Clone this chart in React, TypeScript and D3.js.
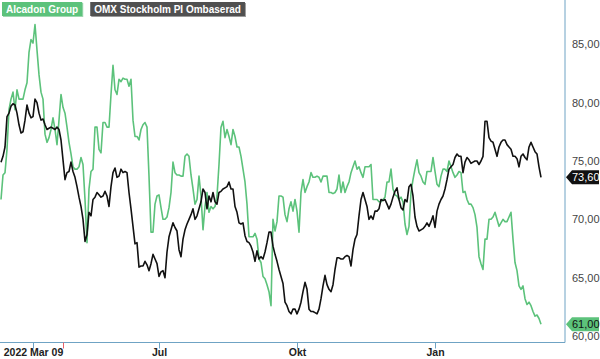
import React, { useEffect, useRef } from "react";
import * as d3 from "d3";

// daily closes (one value per trading day step)
const alcadon = [
  71.7, 73.8, 74.0, 76.0, 79.4, 80.3, 80.9, 79.4, 81.1, 80.3, 80.3, 80.3, 81.1, 81.7, 84.3, 85.4, 85.1, 86.7, 84.5, 82.4,
  80.9, 80.3, 77.3, 76.6, 77.0, 77.7, 78.7, 77.7, 76.4, 78.5, 80.7, 79.6, 79.1, 77.9, 76.6, 75.6, 74.5, 74.3, 74.3, 74.5,
  75.3, 74.7, 71.7, 68.0, 72.6, 74.1, 74.3, 77.9, 77.9, 76.0, 75.7, 78.3, 78.3, 77.9, 77.9, 80.7, 83.2, 81.1, 80.7, 82.0,
  81.8, 82.1, 82.0, 82.0, 81.4, 82.0, 78.5, 77.1, 77.1, 76.8, 77.7, 78.1, 78.3, 77.9, 73.7, 68.9, 68.9, 71.3, 72.0, 72.1,
  71.0, 70.0, 70.0, 70.2, 71.0, 72.3, 74.9, 74.0, 73.8, 73.8, 73.7, 73.7, 75.4, 75.6, 75.4, 73.8, 72.6, 71.3, 71.7, 73.7,
  72.0, 69.1, 71.1, 72.3, 70.6, 71.1, 70.9, 71.1, 72.0, 74.7, 77.9, 78.4, 77.0, 77.7, 77.1, 76.4, 77.7, 77.1, 76.2, 76.2,
  75.4, 74.3, 73.2, 71.3, 68.5, 68.5, 68.5, 68.8, 68.3, 66.6, 66.3, 65.1, 64.9, 64.4, 63.8, 62.6, 70.0, 69.0, 69.8, 72.0,
  72.0, 71.9, 70.4, 69.8, 70.9, 71.5, 70.7, 71.7, 70.7, 68.9, 72.3, 73.4, 72.3, 72.8, 73.2, 74.0, 73.6, 73.6, 73.7, 73.6,
  73.2, 73.7, 73.7, 73.7, 72.3, 72.3, 72.2, 72.3, 72.6, 73.8, 72.3, 73.2, 72.3, 72.8, 73.2, 74.0, 74.5, 75.0, 74.3, 74.5,
  74.0, 73.6, 74.5, 74.5, 74.5, 74.7, 71.7, 71.7, 71.7, 71.5, 71.5, 71.7, 71.9, 73.2, 73.2, 74.3, 72.6, 72.1, 72.0, 71.7,
  71.9, 71.5, 69.6, 68.7, 69.4, 72.3, 73.4, 74.3, 75.1, 74.0, 73.7, 73.2, 73.0, 74.1, 74.1, 74.1, 75.3, 74.1, 73.0, 72.8,
  73.7, 74.3, 74.3, 74.1, 75.0, 74.5, 74.0, 73.6, 73.8, 74.1, 74.0, 72.3, 72.4, 71.7, 71.3, 71.3, 71.0, 70.4, 69.3, 66.8,
  66.2, 65.7, 68.3, 68.3, 70.0, 70.0, 70.2, 70.6, 70.0, 69.4, 69.7, 70.0, 69.8, 69.8, 70.2, 70.6, 68.3, 66.3, 65.6, 64.3,
  64.0, 64.3, 63.2, 62.7, 62.9, 62.6, 62.1, 61.7, 61.8, 61.5, 61.0,
];

const omx = [
  74.9, 75.4, 76.2, 78.8, 79.1, 79.7, 79.9, 79.8, 79.1, 78.1, 77.4, 77.5, 78.5, 79.8, 79.1, 78.7, 78.8, 80.3, 80.0, 79.1,
  78.5, 78.6, 78.1, 77.7, 77.8, 77.9, 77.8, 77.7, 77.9, 77.7, 76.8, 75.1, 73.4, 74.0, 74.1, 74.9, 74.1, 73.6, 72.8, 71.9,
  71.1, 70.0, 68.1, 68.7, 70.6, 70.3, 71.7, 71.9, 72.3, 72.1, 71.9, 72.0, 72.4, 72.0, 71.1, 72.8, 74.0, 74.4, 73.6, 73.7,
  74.3, 74.0, 74.1, 74.0, 72.3, 70.9, 69.4, 67.9, 68.0, 65.9, 66.0, 66.0, 66.4, 66.1, 65.6, 66.2, 67.0, 66.6, 66.2, 65.1,
  65.5, 65.6, 65.0, 67.2, 68.5, 69.1, 69.7, 69.3, 69.0, 67.4, 66.8, 68.3, 69.1, 69.6, 70.0, 70.4, 70.9, 70.0, 70.3, 70.9,
  71.5, 72.6, 72.3, 70.9, 72.0, 71.5, 72.3, 71.5, 71.3, 72.3, 72.4, 72.6, 72.7, 72.8, 73.2, 72.6, 72.6, 71.1, 70.6, 69.7,
  69.6, 69.7, 68.6, 68.1, 68.0, 67.7, 67.2, 66.4, 67.3, 66.6, 66.8, 66.6, 67.2, 68.0, 68.9, 68.9, 67.7, 67.0, 66.4, 65.7,
  65.1, 64.5, 62.9, 62.6, 62.1, 61.9, 62.3, 62.3, 61.9, 62.3, 62.9, 63.8, 64.6, 64.0, 62.3, 62.1, 62.1, 62.0, 61.9, 62.3,
  63.2, 64.3, 65.2, 64.4, 64.0, 63.8, 64.4, 65.7, 66.7, 66.7, 66.6, 66.6, 66.8, 66.9, 66.8, 66.0, 67.4, 68.3, 68.7, 70.3,
  71.7, 72.3, 71.7, 71.1, 70.0, 70.3, 70.0, 70.7, 70.7, 70.9, 71.7, 71.6, 71.7, 71.3, 70.9, 71.3, 71.9, 72.4, 72.7, 71.7,
  71.0, 70.8, 71.7, 71.5, 72.8, 73.0, 72.0, 70.2, 69.4, 69.0, 69.1, 69.2, 69.4, 69.7, 69.4, 69.8, 70.3, 69.3, 70.7, 71.3,
  71.7, 72.0, 72.6, 73.4, 74.3, 74.5, 74.7, 75.3, 75.6, 75.4, 75.4, 74.0, 74.9, 75.3, 75.1, 74.8, 74.9, 75.0, 75.0, 74.7,
  75.0, 75.4, 78.4, 78.4, 77.0, 76.7, 76.6, 76.0, 75.4, 76.2, 76.6, 76.8, 76.8, 76.4, 76.2, 76.0, 75.4, 75.4, 75.2, 74.5,
  75.4, 75.6, 75.3, 75.1, 76.2, 76.6, 76.2, 75.8, 75.6, 74.5, 73.6,
];

const seriesNames = ["Alcadon Group", "OMX Stockholm PI Ombaserad"];
const yTicks = [60, 65, 70, 75, 80, 85];
const xTickIdx = [16, 79, 148, 217];
const xTickLabels = ["2022 Mar 09", "Jul", "Okt", "Jan"];
const eventIdx = [31];

const GREEN = "#5cc27b";
const BLUE = "#6fa3c4";
const FONT = "'Liberation Sans', Arial, sans-serif";

const App = () => {
  const svgRef = useRef<SVGSVGElement>(null);

  useEffect(() => {
    const width = 600, height = 359;
    const plotRight = 565, plotBottom = 342.5;

    const svg = d3.select(svgRef.current)
      .attr("width", width)
      .attr("height", height);
    svg.selectAll("*").remove();

    const x = d3.scaleLinear().domain([0, alcadon.length - 1]).range([1, 541]);
    const y = d3.scaleLinear().domain([60, 85]).range([336, 44.3]);
    const fmt = (v: number) => d3.format(".2f")(v).replace(".", ",");

    svg.append("rect").attr("width", width).attr("height", height).attr("fill", "#fff");

    // frame
    svg.append("line")
      .attr("x1", plotRight).attr("x2", plotRight).attr("y1", 0).attr("y2", plotBottom)
      .attr("stroke", BLUE).attr("stroke-width", 1);
    svg.append("line")
      .attr("x1", 0).attr("x2", plotRight).attr("y1", plotBottom).attr("y2", plotBottom)
      .attr("stroke", BLUE).attr("stroke-width", 1);

    // x ticks
    const xt = svg.append("g");
    xTickIdx.forEach((d, i) => {
      const px = Math.round(x(d)) + 0.5;
      xt.append("line")
        .attr("x1", px).attr("x2", px).attr("y1", plotBottom).attr("y2", plotBottom + 6)
        .attr("stroke", BLUE);
      xt.append("text")
        .attr("x", i === 0 ? Math.max(px, 30) : px).attr("y", 356)
        .attr("text-anchor", "middle")
        .attr("font-family", FONT).attr("font-size", 10.5).attr("font-weight", "bold")
        .attr("fill", "#222")
        .text(xTickLabels[i]);
    });
    eventIdx.forEach(d => {
      const px = Math.round(x(d)) + 0.5;
      svg.append("line")
        .attr("x1", px).attr("x2", px).attr("y1", plotBottom).attr("y2", plotBottom + 6)
        .attr("stroke", "#e8606a");
    });

    // y labels
    svg.append("g").selectAll("text")
      .data(yTicks)
      .enter()
      .append("text")
      .attr("x", 572).attr("y", d => y(d) + 4)
      .attr("font-family", FONT).attr("font-size", 11)
      .attr("fill", "#444")
      .text(d => fmt(d));

    const line = d3.line<number>()
      .x((d, i) => x(i))
      .y(d => y(d));

    svg.append("path")
      .datum(alcadon)
      .attr("fill", "none").attr("stroke", GREEN).attr("stroke-width", 1.6)
      .attr("stroke-linejoin", "round")
      .attr("d", line);

    svg.append("path")
      .datum(omx)
      .attr("fill", "none").attr("stroke", "#111").attr("stroke-width", 1.6)
      .attr("stroke-linejoin", "round")
      .attr("d", line);

    // last value flags
    const flags = [
      { v: omx[omx.length - 1], bg: "#111", fg: "#fff" },
      { v: alcadon[alcadon.length - 1], bg: GREEN, fg: "#111" },
    ];
    flags.forEach(f => {
      const yc = y(f.v);
      svg.append("path")
        .attr("d", `M566,${yc} L572,${yc - 7} L599,${yc - 7} L599,${yc + 7} L572,${yc + 7} Z`)
        .attr("fill", f.bg);
      svg.append("text")
        .attr("x", 572).attr("y", yc + 4)
        .attr("font-family", FONT).attr("font-size", 11)
        .attr("fill", f.fg)
        .text(fmt(f.v));
    });

    // legend
    const legendColors = [GREEN, "#505050"];
    let lx = 2;
    seriesNames.forEach((name, i) => {
      const g = svg.append("g");
      const shadow = g.append("rect").attr("fill", i === 0 ? "#9fd7b0" : "#9a9a9a");
      const box = g.append("rect").attr("fill", legendColors[i]);
      const t = g.append("text")
        .attr("x", lx + 4).attr("y", 13)
        .attr("font-family", FONT).attr("font-size", 10).attr("font-weight", "bold")
        .attr("fill", "#fff")
        .text(name);
      const w = (t.node() as SVGTextElement).getComputedTextLength() + 8;
      box.attr("x", lx).attr("y", 2).attr("width", w).attr("height", 14);
      shadow.attr("x", lx + 1).attr("y", 3).attr("width", w).attr("height", 14);
      lx += w + 8;
    });
  }, []);

  return <svg ref={svgRef} style={{ position: "absolute", left: 0, top: 0 }}></svg>;
};

export default App;
